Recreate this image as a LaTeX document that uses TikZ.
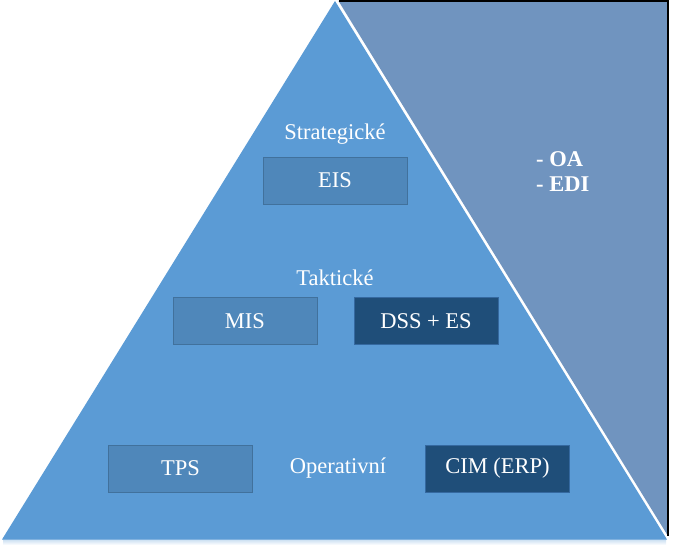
\documentclass[tikz,border=0pt]{standalone}
\usepackage{fontspec}
\setmainfont{Liberation Serif}
\usetikzlibrary{positioning}
\definecolor{pyramidfill}{HTML}{5B9BD5}
\definecolor{sidefill}{HTML}{7094BF}
\definecolor{lightfill}{HTML}{4F87BA}
\definecolor{lightedge}{HTML}{41719C}
\definecolor{darkfill}{HTML}{1F4E79}
\definecolor{darkedge}{HTML}{3569A0}

\begin{document}
\begin{tikzpicture}[
x=1pt,
y=-1pt,
sysbox/.style={
    draw=lightedge,
    fill=lightfill,
    line width=1pt,
    minimum width=144pt,
    minimum height=47pt,
    inner sep=0pt,
    text=white,
    font=\fontsize{22.5}{27}\selectfont
},
darkbox/.style={
    sysbox,
    draw=darkedge,
    fill=darkfill
},
level/.style={
    inner sep=0pt,
    text=white,
    font=\fontsize{22.5}{27}\selectfont
}
]

\useasboundingbox (0,0) rectangle (674,546);

% soft shadow under the pyramid
\shade[top color=pyramidfill!35, bottom color=white] (3,539) rectangle (666,545);

% pyramid and side area
\fill[pyramidfill] (335,1) -- (667,539.5) -- (2,539.5) -- cycle;
\fill[sidefill] (338.5,1) -- (668,1) -- (668,536) -- cycle;
\draw[line width=1.5pt] (338.5,1) -- (668,1) -- (668,536);

% strategic level
\node[level] (strat) at (335,134) {Strategické};
\node[sysbox] (eis) at (335,180.5) {EIS};

% tactical level
\node[level] (takt) at (335,278) {Taktické};
\node[sysbox] (mis) at (245,321) {MIS};
\node[darkbox, right=36pt of mis] (dss) {DSS + ES};

% operational level
\node[sysbox] (tps) at (180.5,468.5) {TPS};
\node[level] (oper) at (338,468) {Operativní};
\node[darkbox] (cim) at (497.5,468.5) {CIM (ERP)};

% office systems
\node[level, anchor=west, align=left, font=\fontsize{22.5}{25}\selectfont\bfseries]
  (office) at (536,172) {- OA\\- EDI};

\end{tikzpicture}
\end{document}
